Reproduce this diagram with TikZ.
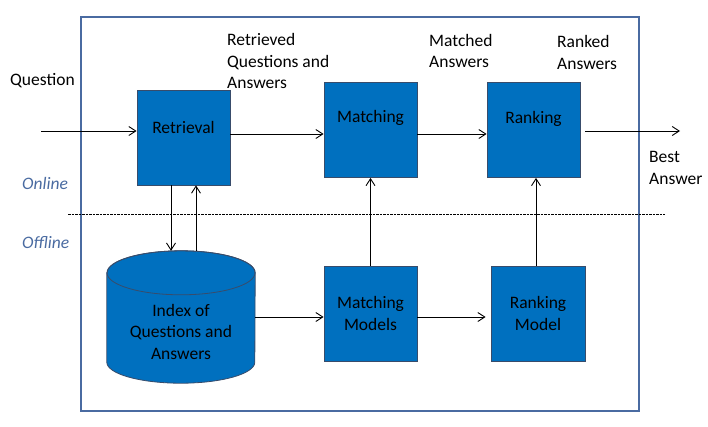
\documentclass[tikz,border=0pt]{standalone}
\usepackage{fontspec}
\setmainfont{Carlito}
\usepackage{tikz}
\definecolor{boxblue}{rgb}{0,0.44,0.75}
\definecolor{boxedge}{rgb}{0.22,0.30,0.42}
\definecolor{framecol}{rgb}{0.29,0.42,0.63}
\usetikzlibrary{arrows.meta}
\usetikzlibrary{calc}

\begin{document}
\begin{tikzpicture}[x=1pt, y=-1pt, font=\fontsize{17.5}{21.5}\selectfont,
    stage/.style={draw=boxedge, fill=boxblue, line width=0.8pt, minimum width=93pt, minimum height=95pt, inner sep=0pt},
    drum/.style={draw=boxedge, fill=boxblue, line width=0.8pt},
    flow/.style={-{Straight Barb[length=7pt, width=9pt]}, line width=0.9pt},
    note/.style={anchor=west, align=left, inner sep=0pt},
    mode/.style={anchor=west, inner sep=0pt, text=framecol, font=\fontsize{17.5}{21.5}\selectfont\itshape}]

    \useasboundingbox (0,0) rectangle (708,426);
    \draw[framecol, line width=1.8pt] (81,17) rectangle (639,411);
    \draw[dash pattern=on 2.5pt off 1pt, line width=0.6pt] (68,214) -- (665,214);

    \node[stage, label={[name=retrtxt, yshift=10.5pt]center:Retrieval}] (retr) at (183.5,137.5) {};
    \node[stage, label={[name=matchtxt, yshift=12pt]center:Matching}] (match) at (370.5,130) {};
    \node[stage, label={[name=ranktxt, yshift=11pt]center:Ranking}] (rank) at (533.5,130) {};
    \node[stage, align=center] (mm) at (370.5,313.5) {Matching\\Models};
    \node[stage, minimum width=94pt, align=center] (rmodel) at (538,313.5) {Ranking\\Model};

    \node[minimum width=148pt, minimum height=132pt, inner sep=0pt] (idx) at (181,317) {};
    \filldraw[drum] ([yshift=-22pt]idx.north west) -- ([yshift=21pt]idx.south west)
        arc[start angle=180, end angle=0, x radius=74, y radius=21]
        -- ([yshift=-22pt]idx.north east)
        arc[start angle=360, end angle=180, x radius=74, y radius=22] -- cycle;
    \draw[drum, fill=none] ([yshift=-22pt]idx.north) ellipse[x radius=74, y radius=22];
    \node[align=center, inner sep=0pt] (idxtxt) at ([yshift=-14.5pt]idx.center) {Index of\\Questions and\\Answers};

    \node[note] (question) at (10,81) {Question};
    \node[note] (retrieved) at (227,61) {Retrieved\\Questions and\\Answers};
    \node[note] (matched) at (429,51) {Matched\\Answers};
    \node[note] (ranked) at (557,52.5) {Ranked\\Answers};
    \node[note] (best) at (649,168) {Best\\Answer};
    \node[mode] (online) at (22,183) {Online};
    \node[mode] (offline) at (22,243) {Offline};

    \coordinate (qin) at (41,131);
    \coordinate (qout) at (680,131);
    \draw[flow] (qin) -- (qin -| retr.west);
    \draw[flow] ([yshift=3.5pt]retr.east) coordinate (rm) -- (rm -| match.west);
    \draw[flow] ([yshift=-4pt]match.east) coordinate (mr) -- (mr -| rank.west);
    \draw[flow] ([xshift=5pt, yshift=-1pt]rank.east) -- (qout);
    \draw[flow] ([xshift=-12.5pt]retr.south) coordinate (rd) -- (rd |- idx.north);
    \draw[flow] ([xshift=15pt]idx.north) coordinate (iu) -- (iu |- retr.south);
    \draw[flow] (idx.east) -- (idx.east -| mm.west);
    \draw[flow] (mm.north) -- (match.south);
    \draw[flow] ([yshift=-3.5pt]mm.east) coordinate (mo) -- ([xshift=-5pt]mo -| rmodel.west);
    \draw[flow] ([xshift=-2pt]rmodel.north) coordinate (ru) -- (ru |- rank.south);

\end{tikzpicture}
\end{document}
